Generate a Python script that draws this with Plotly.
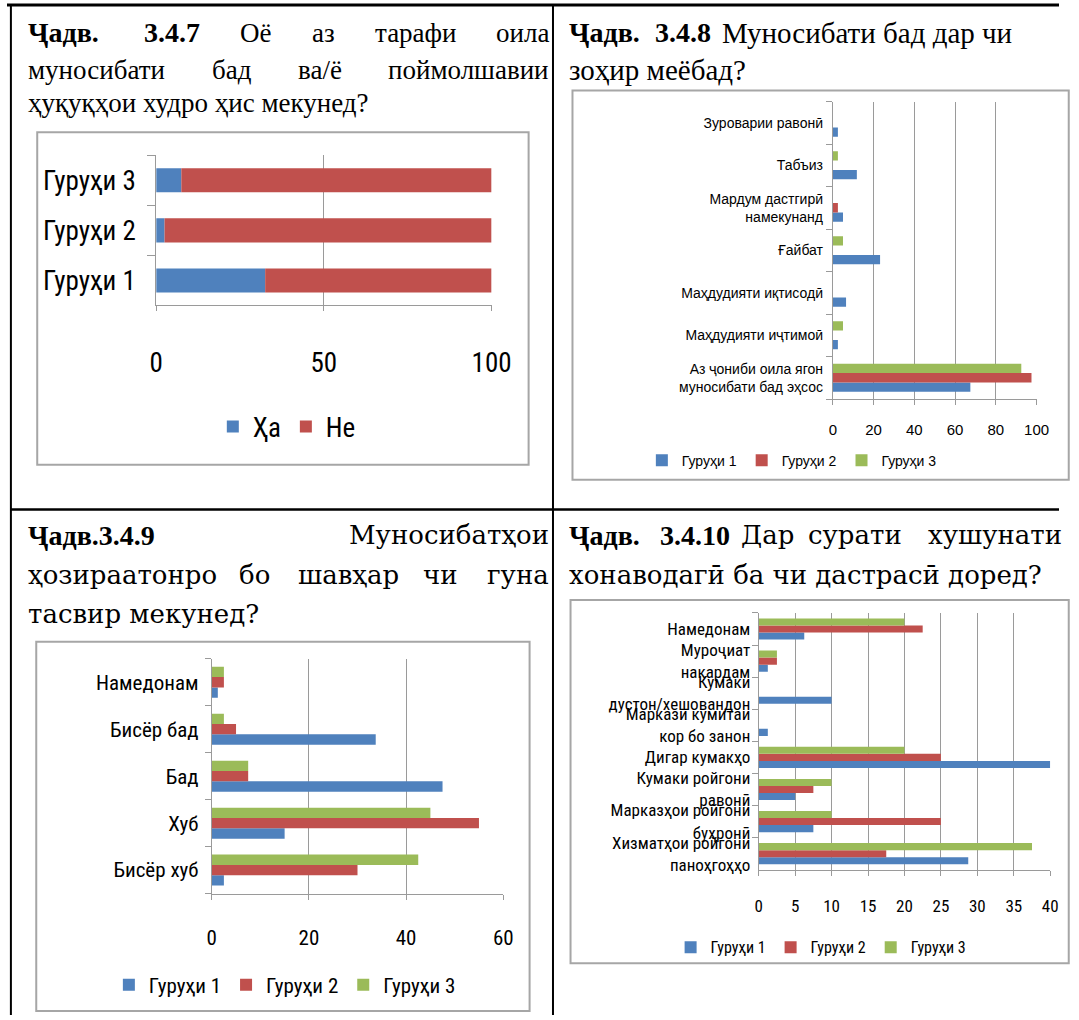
import plotly.graph_objects as go

W, H = 1079, 1020

BLUE = '#4F81BD'
RED = '#C0504D'
GREEN = '#9BBB59'
AXIS = '#9A9A9A'
GRID = '#9A9A9A'
BOX = '#A6A6A6'

NARROW = 'Liberation Sans Narrow, Roboto Condensed, Arial Narrow, Liberation Sans, sans-serif'
SANS = 'Liberation Sans, Arial, sans-serif'
SERIF = 'Liberation Serif, Times New Roman, serif'
SERIF2 = 'DejaVu Serif, Palatino Linotype, serif'

# Ҷадв. 3.4.7
groups_347 = ['Гуруҳи 1', 'Гуруҳи 2', 'Гуруҳи 3']
ha_347 = [32.5, 2.5, 7.5]
ne_347 = [67.5, 97.5, 92.5]

# Ҷадв. 3.4.8
cats_348 = ['Аз ҷониби оила ягон<br>муносибати бад эҳсос', 'Маҳдудияти иҷтимоӣ',
            'Маҳдудияти иқтисодӣ', 'Ғайбат', 'Мардум дастгирӣ<br>намекунанд',
            'Табъиз', 'Зуроварии равонӣ']
g1_348 = [67.5, 2.5, 6.5, 23.2, 5, 11.8, 2.5]
g2_348 = [97.5, 0, 0, 0, 2.5, 0, 0]
g3_348 = [92.5, 5, 0, 5, 0, 2.5, 0]

# Ҷадв. 3.4.9
cats_349 = ['Бисёр хуб', 'Хуб', 'Бад', 'Бисёр бад', 'Намедонам']
g1_349 = [2.5, 15, 47.5, 33.75, 1.25]
g2_349 = [30, 55, 7.5, 5, 2.5]
g3_349 = [42.5, 45, 7.5, 2.5, 2.5]

# Ҷадв. 3.4.10
cats_3410 = ['Хизматҳои ройгони<br>паноҳгоҳҳо', 'Марказҳои ройгони<br>буҳронӣ',
             'Кумаки ройгони<br>равонӣ', 'Дигар кумакҳо', 'Маркази кумитаи<br>кор бо занон',
             'Кумаки<br>дустон/хешовандон', 'Муроҷиат<br>накардам', 'Намедонам']
g1_3410 = [28.75, 7.5, 5, 40, 1.25, 10, 1.25, 6.25]
g2_3410 = [17.5, 25, 7.5, 25, 0, 0, 2.5, 22.5]
g3_3410 = [37.5, 10, 10, 20, 0, 0, 2.5, 20]

series_names = ['Гуруҳи 1', 'Гуруҳи 2', 'Гуруҳи 3']


def fx(p):
    return p / W


def fy(p):
    return 1 - p / H


fig = go.Figure()


def add_bar(cats, vals, name, color, n, width, offset, base=None):
    sfx = '' if n == 1 else str(n)
    fig.add_trace(go.Bar(
        y=cats, x=vals, orientation='h', name=name, base=base,
        marker=dict(color=color, line=dict(width=0)),
        width=width, offset=offset,
        xaxis='x' + sfx, yaxis='y' + sfx, legend='legend' + sfx,
        hoverinfo='x+y'
    ))


# chart 1: stacked
add_bar(groups_347, ha_347, 'Ҳа', BLUE, 1, 0.48, -0.24)
add_bar(groups_347, ne_347, 'Не', RED, 1, 0.48, -0.24, base=ha_347)

# charts 2-4: grouped
for n, cats, data in [(2, cats_348, [g1_348, g2_348, g3_348]),
                      (3, cats_349, [g1_349, g2_349, g3_349]),
                      (4, cats_3410, [g1_3410, g2_3410, g3_3410])]:
    for i, (vals, col) in enumerate(zip(data, [BLUE, RED, GREEN])):
        add_bar(cats, vals, series_names[i], col, n, 0.22, -0.33 + 0.22 * i)

layout = dict(
    width=W, height=H, margin=dict(l=0, r=0, t=0, b=0),
    paper_bgcolor='white', plot_bgcolor='white',
    barmode='overlay', showlegend=True,
)


def axes(n, cats, xdom, ydom, xmax, dtick, xfont, yfont, xstand, ystand, ylen):
    sfx = '' if n == 1 else str(n)
    layout['xaxis' + sfx] = dict(
        domain=[fx(xdom[0]), fx(xdom[1])], range=[0, xmax], dtick=dtick, tick0=0,
        showgrid=True, gridcolor=GRID, gridwidth=1, zeroline=False,
        showline=True, linecolor=AXIS, linewidth=1,
        ticks='outside', ticklen=5, tickcolor=AXIS,
        tickfont=xfont, ticklabelstandoff=xstand, anchor='y' + sfx, fixedrange=True)
    layout['yaxis' + sfx] = dict(
        domain=[fy(ydom[1]), fy(ydom[0])], type='category',
        categoryorder='array', categoryarray=cats, range=[-0.5, len(cats) - 0.5],
        showgrid=False, zeroline=False, showline=True, linecolor=AXIS, linewidth=1,
        ticks='outside', tickson='boundaries', ticklen=ylen, tickcolor=AXIS,
        tickfont=yfont, ticklabelstandoff=ystand, anchor='x' + sfx, fixedrange=True)


axes(1, groups_347, (153, 497), (156, 307), 100, 50,
     dict(family=NARROW, size=27, color='black'), dict(family=NARROW, size=27, color='black'), 28, 14, 8)
axes(2, cats_348, (847, 1056), (102, 401), 100, 20,
     dict(family=SANS, size=15, color='black'), dict(family=SANS, size=14, color='black'), 12, 6, 6)
axes(3, cats_349, (210, 509), (662, 898), 60, 20,
     dict(family=NARROW, size=21, color='black'), dict(family=NARROW, size=21, color='black'), 20, 8, 6)
axes(4, cats_3410, (771, 1070), (616, 874), 40, 5,
     dict(family=NARROW, size=17, color='black'), dict(family=NARROW, size=17, color='black'), 16, 4, 6)

for n, x, y, size, fam in [(1, 287, 429, 27, NARROW), (2, 805, 463, 14, SANS),
                           (3, 285, 990, 21, NARROW), (4, 835, 952, 16, NARROW)]:
    sfx = '' if n == 1 else str(n)
    layout['legend' + sfx] = dict(
        orientation='h', x=fx(x), y=fy(y), xanchor='center', yanchor='middle',
        font=dict(family=fam, size=size, color='black'), bgcolor='rgba(0,0,0,0)',
        itemclick=False, itemdoubleclick=False)

fig.update_layout(**layout)

# table grid and chart frames
shapes = [
    dict(type='line', x0=0, x1=W, y0=5, y1=5, line=dict(color='black', width=3)),
    dict(type='line', x0=4, x1=4, y0=4, y1=H, line=dict(color='black', width=2)),
    dict(type='line', x0=560, x1=560, y0=4, y1=H, line=dict(color='black', width=2)),
    dict(type='line', x0=4, x1=W, y0=512, y1=512, line=dict(color='black', width=2.5)),
    dict(type='rect', x0=31, x1=535, y0=133, y1=467, line=dict(color=BOX, width=2)),
    dict(type='rect', x0=580, x1=W + 10, y0=91, y1=482, line=dict(color=BOX, width=2)),
    dict(type='rect', x0=30, x1=536, y0=645, y1=1016, line=dict(color=BOX, width=2)),
    dict(type='rect', x0=578, x1=W + 10, y0=603, y1=968, line=dict(color=BOX, width=2)),
]
for s in shapes:
    s.update(xref='paper', yref='paper', x0=fx(s['x0']), x1=fx(s['x1']),
             y0=fy(s['y0']), y1=fy(s['y1']), layer='below')
    fig.add_shape(**s)


def words(items, y, size=27, family=SERIF):
    for text, x, anchor in items:
        if anchor == 'right':
            x += 8
        fam = family
        sz = size
        if text.startswith('<b>'):
            fam, sz = SERIF, 28
        fig.add_annotation(text=text, x=fx(x), y=fy(y), xref='paper', yref='paper',
                           xanchor=anchor, yanchor='middle', showarrow=False,
                           font=dict(family=fam, size=sz, color='black'))


# headings (justified lines are laid out word by word)
words([('<b>Ҷадв.</b>', 20, 'left'), ('<b>3.4.7</b>', 138, 'left'), ('Оё', 237, 'left'),
       ('аз', 311, 'left'), ('тарафи', 375, 'left'), ('оила', 550, 'right')], 33)
words([('муносибати', 20, 'left'), ('бад', 208, 'left'), ('ва/ё', 296, 'left'),
       ('поймолшавии', 550, 'right')], 70)
words([('ҳуқуқҳои худро ҳис мекунед?', 20, 'left')], 104)

words([('<b>Ҷадв.</b>', 574, 'left'), ('<b>3.4.8</b>', 663, 'left'),
       ('Муносибати бад дар чи', 731, 'left')], 33, 29)
words([('зоҳир меёбад?', 574, 'left')], 70, 29)

words([('<b>Ҷадв.3.4.9</b>', 20, 'left'), ('Муносибатҳои', 550, 'right')], 538, 26, SERIF2)
words([('ҳозираатонро', 20, 'left'), ('бо', 236, 'left'), ('шавҳар', 296, 'left'),
       ('чи', 425, 'left'), ('гуна', 550, 'right')], 578, 26, SERIF2)
words([('тасвир мекунед?', 20, 'left')], 617, 26, SERIF2)

words([('<b>Ҷадв.</b>', 574, 'left'), ('<b>3.4.10</b>', 668, 'left'), ('Дар', 751, 'left'),
       ('сурати', 820, 'left'), ('хушунати', 943, 'left')], 538, 26, SERIF2)
words([('хонаводагӣ ба чи дастрасӣ доред?', 574, 'left')], 578, 26, SERIF2)

fig.write_html('out.html', config={'displayModeBar': False},
               post_script="document.body.style.margin='0';")
